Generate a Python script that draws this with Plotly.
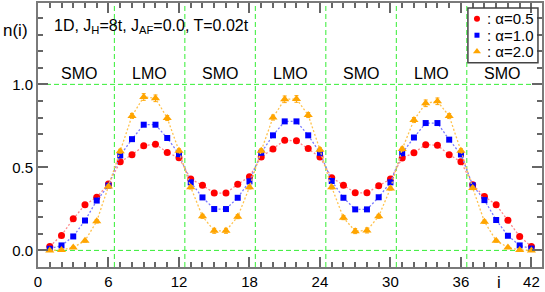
import plotly.graph_objects as go

# ---- data ----
site = list(range(1, 43))
alpha05 = [0.024, 0.09, 0.19, 0.275, 0.32, 0.40, 0.534, 0.576, 0.63, 0.64, 0.59, 0.558,
           0.43, 0.392, 0.345, 0.345, 0.398, 0.444, 0.562, 0.61, 0.663, 0.66, 0.613, 0.562,
           0.438, 0.392, 0.347, 0.347, 0.39, 0.43, 0.556, 0.588, 0.637, 0.633, 0.576, 0.534,
           0.395, 0.325, 0.275, 0.181, 0.084, 0.024]
alpha10 = [0.01, 0.03, 0.084, 0.18, 0.30, 0.39, 0.572, 0.67, 0.757, 0.757, 0.677, 0.58,
           0.41, 0.319, 0.249, 0.249, 0.317, 0.416, 0.588, 0.693, 0.777, 0.777, 0.693, 0.588,
           0.418, 0.317, 0.247, 0.247, 0.32, 0.41, 0.585, 0.68, 0.767, 0.767, 0.667, 0.578,
           0.392, 0.303, 0.183, 0.088, 0.03, 0.011]
alpha20 = [0.0, 0.002, 0.018, 0.058, 0.175, 0.385, 0.597, 0.81, 0.924, 0.916, 0.797, 0.60,
           0.38, 0.205, 0.118, 0.118, 0.203, 0.38, 0.60, 0.80, 0.91, 0.912, 0.815, 0.606,
           0.38, 0.197, 0.116, 0.12, 0.205, 0.373, 0.61, 0.785, 0.886, 0.898, 0.809, 0.60,
           0.376, 0.173, 0.058, 0.018, 0.002, 0.0]
err20 = [0.004, 0.004, 0.006, 0.008, 0.01, 0.01, 0.012, 0.015, 0.02, 0.02, 0.015, 0.012,
         0.01, 0.012, 0.015, 0.015, 0.012, 0.01, 0.012, 0.015, 0.02, 0.02, 0.015, 0.012,
         0.01, 0.012, 0.015, 0.015, 0.012, 0.01, 0.012, 0.015, 0.02, 0.02, 0.015, 0.012,
         0.01, 0.01, 0.008, 0.006, 0.004, 0.004]
series_names = [": α=0.5", ": α=1.0", ": α=2.0"]
region_labels = ["SMO", "LMO", "SMO", "LMO", "SMO", "LMO", "SMO"]
region_centers = [3.5, 9.5, 15.5, 21.5, 27.5, 33.5, 39.5]
boundaries = [6.5, 12.5, 18.5, 24.5, 30.5, 36.5]
hlines = [0.0, 1.0]
x_ticks = [0, 6, 12, 18, 24, 30, 36, 42]
y_ticks = [0.0, 0.5, 1.0]
y_ticklabels = ["0.0", "0.5", "1.0"]

FONT = "Liberation Sans, Arial, sans-serif"
GREEN = "#33ee33"
styles = [
    dict(color="#ff0000", line="#ff8a8a", symbol="circle", size=7),
    dict(color="#0000ff", line="#7a7aff", symbol="square", size=6),
    dict(color="#ffa500", line="#ffc24d", symbol="triangle-up", size=8),
]

fig = go.Figure()
for vals, st, nm, err in [(alpha05, styles[0], series_names[0], None),
                          (alpha10, styles[1], series_names[1], None),
                          (alpha20, styles[2], series_names[2], err20)]:
    kw = {}
    if err is not None:
        kw["error_y"] = dict(type="data", array=err, visible=True, color=st["color"],
                             thickness=1, width=2)
    fig.add_trace(go.Scatter(
        x=site, y=vals, mode="lines+markers", name=nm, showlegend=False,
        line=dict(color=st["line"], width=1.3, dash="2px,2px"),
        marker=dict(color=st["color"], symbol=st["symbol"], size=st["size"], line=dict(width=0)),
        **kw))

# manual legend (markers on hidden overlay axes in paper fraction)
leg_rows = [0.940, 0.878, 0.816]
for st, nm, yr in zip(styles, series_names, leg_rows):
    fig.add_trace(go.Scatter(
        x=[0.871], y=[yr], mode="markers", xaxis="x2", yaxis="y2", showlegend=False,
        hoverinfo="skip",
        marker=dict(color=st["color"], symbol=st["symbol"], size=st["size"] - 1, line=dict(width=0))))
    fig.add_annotation(xref="paper", yref="paper", x=0.887, y=yr, text=nm, showarrow=False,
                       xanchor="left", yanchor="middle", font=dict(family=FONT, size=15, color="black"))

fig.add_shape(type="rect", xref="paper", yref="paper", x0=0.853, x1=0.992, y0=0.774, y1=0.981,
              line=dict(color="#444444", width=1.5), layer="above")

for b in boundaries:
    fig.add_shape(type="line", xref="x", yref="paper", x0=b, x1=b, y0=0, y1=1,
                  line=dict(color=GREEN, width=1, dash="5px,3px"), layer="below")
for h in hlines:
    fig.add_shape(type="line", xref="paper", yref="y", x0=0, x1=1, y0=h, y1=h,
                  line=dict(color=GREEN, width=1, dash="5px,3px"), layer="below")

for lab, cx in zip(region_labels, region_centers):
    fig.add_annotation(x=cx, y=1.065, text=lab, showarrow=False,
                       font=dict(family=FONT, size=16, color="black"))

fig.add_annotation(x=1.15, y=1.35, xanchor="left", yanchor="middle",
                   text="1D, J<sub>H</sub>=8t, J<sub>AF</sub>=0.0, T=0.02t", showarrow=False,
                   font=dict(family=FONT, size=16, color="black"))
fig.add_annotation(xref="paper", yref="paper", x=-0.073, y=0.895, xanchor="left", yanchor="middle",
                   text="n(i)", showarrow=False, font=dict(family=FONT, size=17, color="black"))
fig.add_annotation(xref="paper", yref="paper", x=0.915, y=-0.06, xanchor="center", yanchor="middle",
                   text="i", showarrow=False, font=dict(family=FONT, size=17, color="black"))

axis_common = dict(showline=True, linecolor="#7a7a7a", linewidth=2, mirror="allticks",
                   ticks="inside", ticklen=10, tickwidth=1.5, tickcolor="#666666",
                   showgrid=False, zeroline=False,
                   tickfont=dict(family=FONT, size=15, color="black"))

fig.update_layout(
    width=545, height=292,
    margin=dict(l=38, r=3, t=1, b=25),
    paper_bgcolor="white", plot_bgcolor="white",
    xaxis=dict(range=[0, 42.9], tickmode="array", tickvals=x_ticks,
               minor=dict(tickmode="linear", tick0=0, dtick=1, ticklen=5, tickcolor="#666666",
                          ticks="inside", showgrid=False),
               **axis_common),
    yaxis=dict(range=[-0.1, 1.49], tickmode="array", tickvals=y_ticks, ticktext=y_ticklabels,
               minor=dict(tickmode="linear", tick0=0, dtick=0.1, ticklen=5, tickcolor="#666666",
                          ticks="inside", showgrid=False),
               **axis_common),
    xaxis2=dict(domain=[0, 1], range=[0, 1], visible=False, anchor="y2", overlaying="x"),
    yaxis2=dict(domain=[0, 1], range=[0, 1], visible=False, anchor="x2", overlaying="y"),
    showlegend=False,
)

fig.write_html("out.html", config={"displayModeBar": False},
               post_script="document.body.style.margin='0';document.body.style.padding='0';"
                           "document.documentElement.style.overflow='hidden';")
